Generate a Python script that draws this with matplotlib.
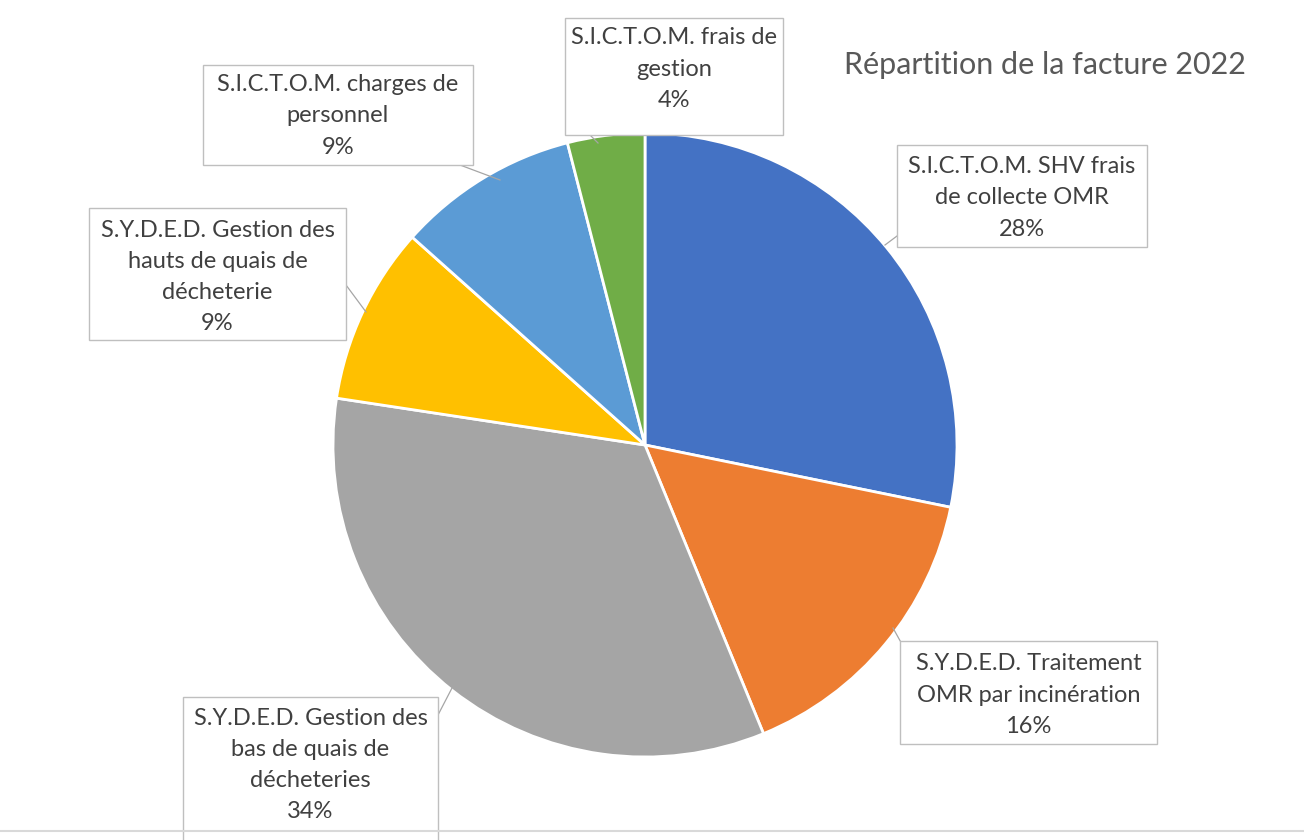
import matplotlib
matplotlib.use("Agg")
import matplotlib.pyplot as plt
from matplotlib.patches import Rectangle

# ---- data ----
categories = [
    "S.I.C.T.O.M. SHV frais\nde collecte OMR",
    "S.Y.D.E.D. Traitement\nOMR par incinération",
    "S.Y.D.E.D. Gestion des\nbas de quais de\ndécheteries",
    "S.Y.D.E.D. Gestion des\nhauts de quais de\ndécheterie",
    "S.I.C.T.O.M. charges de\npersonnel",
    "S.I.C.T.O.M. frais de\ngestion",
]
values = [28.2, 15.6, 33.6, 9.2, 9.4, 4.0]
colors = ["#4472C4", "#ED7D31", "#A5A5A5", "#FFC000", "#5B9BD5", "#70AD47"]
title = "Répartition de la facture 2022"

# ---- layout (pixel coords, y measured from top) ----
W, H = 1304, 840
center = (645, 445)
radius = 312
# label boxes: (x0, y0, x1, y1)
boxes = [
    (897, 145, 1147, 247),
    (900, 641, 1157, 744),
    (183, 697, 438, 850),
    (89, 208, 346, 340),
    (203, 65, 473, 165),
    (565, 18, 783, 135),
]
# text centre y (pixel from top)
text_cy = [198, 695, 765, 277, 116, 69]
# leader lines: box anchor -> slice point
leaders = [
    ((905, 230), (885, 245)),
    ((908, 655), (893, 628)),
    ((438, 715), (452, 688)),
    ((346, 285), (366, 312)),
    ((460, 165), (500, 180)),
    ((590, 135), (598, 143)),
]

def Y(p):
    return H - p

fig = plt.figure(figsize=(W / 100, H / 100), dpi=100)
ax = fig.add_axes([0, 0, 1, 1])

ax.pie(values, colors=colors, startangle=90, counterclock=False,
       center=(center[0], Y(center[1])), radius=radius,
       wedgeprops=dict(edgecolor="white", linewidth=2), frame=True)
ax.set_xlim(0, W)
ax.set_ylim(0, H)
ax.set_aspect("equal")
ax.axis("off")

total = sum(values)
font = ["Lato", "DejaVu Sans"]
for cat, v, (x0, y0, x1, y1), cy, (a, b) in zip(categories, values, boxes, text_cy, leaders):
    ax.plot([a[0], b[0]], [Y(a[1]), Y(b[1])], color="#A6A6A6", lw=0.9, zorder=3)
    ax.add_patch(Rectangle((x0, Y(y1)), x1 - x0, y1 - y0, facecolor="white",
                           edgecolor="#BFBFBF", lw=1.0, zorder=4))
    pct = f"{round(v / total * 100)}%"
    ax.text((x0 + x1) / 2, Y(cy), cat + "\n" + pct,
            ha="center", va="center", fontsize=17, color="#404040",
            family=font, linespacing=1.6, zorder=5)

ax.text(1045, Y(65), title, ha="center", va="center", fontsize=22,
        color="#595959", family=font)

ax.plot([0, W], [Y(831), Y(831)], color="#D9D9D9", lw=1.5, zorder=6)

fig.savefig("out.png", dpi=100)
